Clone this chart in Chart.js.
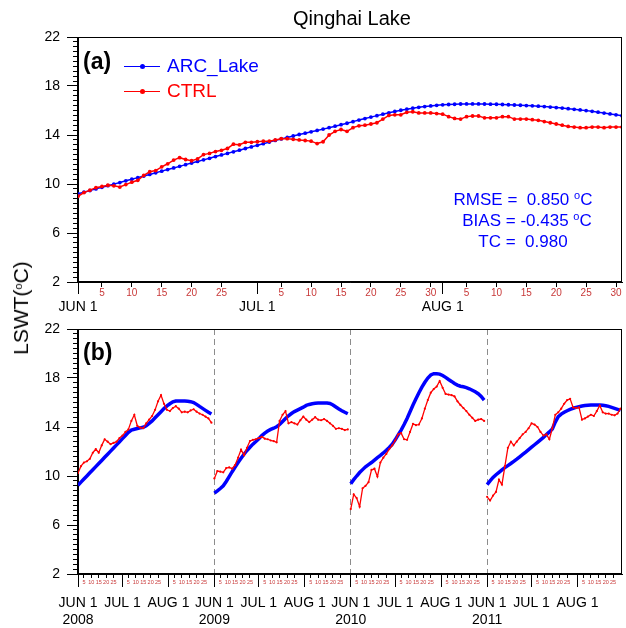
<!DOCTYPE html>
<html>
<head>
<meta charset="utf-8">
<script src="https://cdn.jsdelivr.net/npm/chart.js@4.4.1/dist/chart.umd.min.js"></script>
<style>
  body { margin: 0; background: #fff; width: 626px; height: 628px; position: relative; overflow: hidden;
         font-family: "Liberation Sans", Arial, sans-serif; }
  canvas { position: absolute; left: 0; }
  .txt { position: absolute; white-space: nowrap; line-height: 20px; }
  .ln { position: absolute; height: 1.5px; width: 36px; }
  .dot { position: absolute; width: 5px; height: 5px; border-radius: 50%; }
  sup { font-size: 11px; vertical-align: 6px; line-height: 0; }
</style>
</head>
<body>
<canvas id="panelA" width="626" height="322" style="top:0"></canvas>
<canvas id="panelB" width="626" height="328" style="top:300px"></canvas>

<div class="txt" style="left:78px;width:548px;top:8px;text-align:center;font-size:20px">Qinghai Lake</div>
<div class="txt" style="left:21px;top:308px;font-size:21px;transform:translate(-50%,-50%) rotate(-90deg)">LSWT(<sup>o</sup>C)</div>

<div class="txt" style="left:83px;top:49px;font-size:23px;font-weight:bold;line-height:24px">(a)</div>
<div class="txt" style="left:83px;top:340px;font-size:23px;font-weight:bold;line-height:24px">(b)</div>

<div class="ln" style="left:124px;top:65.5px;background:#0000ff"></div>
<div class="dot" style="left:139.5px;top:63.7px;background:#0000ff"></div>
<div class="txt" style="left:167px;top:56px;font-size:19px;color:#0000ff">ARC_Lake</div>
<div class="ln" style="left:124px;top:90.5px;background:#ff0000"></div>
<div class="dot" style="left:139.5px;top:88.7px;background:#ff0000"></div>
<div class="txt" style="left:167px;top:81px;font-size:19px;color:#ff0000">CTRL</div>

<div class="txt" style="left:423px;width:200px;top:190px;text-align:center;font-size:17px;color:#0000ff">RMSE =&nbsp; 0.850 <sup>o</sup>C</div>
<div class="txt" style="left:427px;width:200px;top:211px;text-align:center;font-size:17px;color:#0000ff">BIAS = -0.435 <sup>o</sup>C</div>
<div class="txt" style="left:423px;width:200px;top:232px;text-align:center;font-size:17px;color:#0000ff">TC =&nbsp; 0.980</div>

<script>
// (a) daily mean Jun 1 - Aug 31
const arcLakeA = [
  9.2, 9.33, 9.46, 9.6, 9.73, 9.86, 9.99, 10.12, 10.26, 10.39,
  10.52, 10.65, 10.78, 10.92, 11.05, 11.18, 11.31, 11.44, 11.58, 11.71,
  11.84, 11.97, 12.1, 12.24, 12.37, 12.5, 12.63, 12.76, 12.9, 13.03,
  13.16, 13.29, 13.42, 13.56, 13.68, 13.8, 13.92, 14.04, 14.15, 14.26,
  14.37, 14.48, 14.6, 14.72, 14.84, 14.96, 15.09, 15.22, 15.34, 15.46,
  15.58, 15.7, 15.81, 15.92, 16.02, 16.11, 16.19, 16.26, 16.32, 16.37,
  16.42, 16.46, 16.49, 16.51, 16.53, 16.54, 16.54, 16.54, 16.53, 16.52,
  16.51, 16.49, 16.47, 16.45, 16.43, 16.4, 16.38, 16.35, 16.32, 16.28,
  16.24, 16.2, 16.15, 16.1, 16.05, 15.99, 15.93, 15.86, 15.79, 15.72,
  15.65, 15.58
];
const ctrlA = [
  9.0, 9.3, 9.5, 9.7, 9.8, 9.9, 9.85, 9.75, 9.95, 10.15,
  10.3, 10.7, 11.0, 11.1, 11.4, 11.65, 11.95, 12.15, 12.0, 11.9,
  12.05, 12.4, 12.5, 12.65, 12.75, 12.9, 13.25, 13.2, 13.4, 13.4,
  13.45, 13.5, 13.5, 13.6, 13.7, 13.7, 13.65, 13.6, 13.55, 13.5,
  13.3, 13.45, 14.0, 14.3, 14.45, 14.3, 14.6, 14.75, 14.8, 14.9,
  15.0, 15.3, 15.6, 15.65, 15.65, 15.85, 15.9, 15.8, 15.8, 15.8,
  15.75, 15.7, 15.5, 15.35, 15.3, 15.5, 15.55, 15.55, 15.4, 15.4,
  15.4, 15.5, 15.5, 15.3, 15.3, 15.3, 15.25, 15.2, 15.1, 15.0,
  14.9, 14.8, 14.7, 14.65, 14.6, 14.6, 14.65, 14.65, 14.6, 14.65,
  14.65, 14.65
];

// (b) every 2nd day, Jun 1 - Aug 30 of each year
const years = ['2008', '2009', '2010', '2011'];
const arcLakeB = [
  [9.24, 9.5, 9.75, 10.0, 10.26, 10.51, 10.77, 11.02, 11.27, 11.53,
   11.78, 12.03, 12.29, 12.54, 12.8, 13.05, 13.3, 13.56, 13.75, 13.82,
   13.88, 13.93, 13.98, 14.1, 14.3, 14.5, 14.75, 15.0, 15.25, 15.5,
   15.72, 15.9, 16.05, 16.12, 16.13, 16.13, 16.12, 16.1, 16.07, 16.0,
   15.85, 15.68, 15.52, 15.36, 15.2, 15.06],
  [8.6, 8.78, 8.98, 9.2, 9.55, 9.95, 10.35, 10.73, 11.1, 11.45,
   11.78, 12.08, 12.35, 12.6, 12.82, 13.05, 13.3, 13.5, 13.67, 13.8,
   13.9, 14.02, 14.2, 14.45, 14.7, 14.92, 15.1, 15.26, 15.38, 15.5,
   15.62, 15.76, 15.84, 15.9, 15.93, 15.95, 15.96, 15.96, 15.95, 15.92,
   15.8, 15.63, 15.47, 15.33, 15.2, 15.08],
  [9.37, 9.7, 10.0, 10.28, 10.52, 10.75, 10.93, 11.1, 11.3, 11.5,
   11.68, 11.88, 12.1, 12.33, 12.6, 12.95, 13.35, 13.75, 14.2, 14.7,
   15.25, 15.8, 16.3, 16.8, 17.25, 17.65, 18.0, 18.25, 18.35, 18.35,
   18.32, 18.2, 18.05, 17.88, 17.72, 17.55, 17.42, 17.33, 17.28, 17.22,
   17.12, 17.0, 16.88, 16.72, 16.5, 16.2],
  [9.3, 9.6, 9.88, 10.1, 10.3, 10.5, 10.68, 10.85, 11.02, 11.2,
   11.38, 11.57, 11.76, 11.95, 12.15, 12.35, 12.55, 12.75, 12.95, 13.15,
   13.38, 13.6, 13.84, 14.4, 14.85, 15.05, 15.2, 15.33, 15.44, 15.53,
   15.6, 15.66, 15.71, 15.75, 15.78, 15.8, 15.8, 15.8, 15.79, 15.77,
   15.74, 15.68, 15.6, 15.52, 15.44, 15.36]
];
const ctrlB = [
  [10.24, 10.8, 11.1, 11.2, 11.4, 11.9, 12.2, 11.9, 12.5, 13.0,
   12.8, 12.6, 12.7, 12.8, 13.1, 13.3, 13.6, 13.8, 14.5, 15.0,
   14.1, 13.95, 13.9, 14.3, 14.6, 14.9, 15.4, 16.1, 16.6, 15.9,
   15.4, 15.3, 15.55, 15.7, 15.5, 15.2, 15.25, 15.2, 15.35, 15.45,
   15.25, 15.1, 15.0, 14.85, 14.7, 14.35],
  [9.8, 10.4, 10.35, 10.3, 10.65, 10.7, 10.6, 10.9, 11.5, 12.15,
   11.7, 12.3, 12.85, 12.95, 13.0, 13.1, 13.2, 13.05, 13.0, 12.9,
   12.85, 12.75, 14.5, 15.0, 15.3, 14.3, 14.4, 14.3, 14.2, 14.55,
   14.85, 14.6, 14.4, 14.6, 14.8, 14.6, 14.55, 14.65, 14.5, 14.3,
   14.1, 13.85, 13.9, 13.85, 13.75, 13.8],
  [7.3, 8.5, 8.2, 7.5, 9.0, 9.2, 9.5, 10.5, 10.6, 9.95,
   11.1, 11.5, 11.8, 12.2, 12.5, 12.9, 13.4, 13.5, 13.0, 12.95,
   13.6, 14.25, 14.15, 14.2, 14.7, 15.5, 16.2, 16.8, 17.1, 17.3,
   17.75, 17.2, 16.7, 16.65, 16.6, 16.5, 16.1, 15.8, 15.55, 15.3,
   15.0, 14.75, 14.5, 14.6, 14.65, 14.5],
  [8.3, 8.0, 8.4, 8.7, 9.7, 9.3, 10.8, 12.3, 12.8, 12.5,
   12.8, 13.1, 13.4, 13.6, 13.9, 14.3, 14.2, 14.0, 13.6, 13.3,
   13.4, 13.0, 13.9, 15.0, 15.2, 15.5, 15.9, 16.2, 16.3, 15.6,
   15.55, 15.6, 14.6, 14.7, 14.85, 15.0, 14.9, 15.3, 15.75, 15.2,
   15.1, 15.1, 15.0, 14.95, 15.1, 15.5]
];

// tick labels
const yTicks = [2, 6, 10, 14, 18, 22];
const monthStart = [0, 30, 61];            // day index of Jun 1, Jul 1, Aug 1
const monthNames = ['JUN 1', 'JUL 1', 'AUG 1'];
const minorDaysA = [[5, 10, 15, 20, 25], [5, 10, 15, 20, 25, 30], [5, 10, 15, 20, 25, 30]];
const minorDaysB = [5, 10, 15, 20, 25];
const seasonLen = 92;
const stepB = 2;

const family = '"Liberation Sans", Arial, sans-serif';
Chart.defaults.font.family = family;

function squeeze(w, h) {
  return function (s) {
    if (w !== null) s.width = w;
    if (h !== null) s.height = h;
    s.paddingLeft = 0; s.paddingRight = 0; s.paddingTop = 0; s.paddingBottom = 0;
  };
}

function tickAxis(axis, pos, min, max, list, o) {
  const labels = new Map(list.map(t => [t.value, t.label]));
  return {
    type: 'linear', axis: axis, position: pos, min: min, max: max, weight: o.weight,
    afterBuildTicks: s => { s.ticks = list.map(t => ({ value: t.value })); },
    afterFit: squeeze(o.w, o.h),
    grid: { drawOnChartArea: !!o.gridColor, color: o.gridColor || '#000', tickColor: '#000',
            tickLength: o.tl, lineWidth: 1, tickWidth: 1 },
    border: { color: '#000', width: 1, dash: o.dash || [] },
    ticks: { autoSkip: false, maxRotation: 0, minRotation: 0, padding: o.pad, color: o.color || '#000',
             font: { family: family, size: o.size || 14 },
             callback: v => labels.has(v) ? labels.get(v) : '' }
  };
}

function yAxes(weightW) {
  const minor = [];
  for (let k = 0; k <= 50; k++) minor.push({ value: 2 + k * 0.4, label: '' });
  return {
    y: tickAxis('y', 'left', 2, 22, yTicks.map(v => ({ value: v, label: String(v) })),
                { weight: 1, w: weightW, h: null, tl: 11, pad: 7 }),
    yMinor: tickAxis('y', 'left', 2, 22, minor, { weight: 0, w: 0, h: null, tl: 5, pad: 0 })
  };
}

// box round the plot, and let the zero-height minor axis draw its labels below the plot
const frame = {
  id: 'frame',
  afterLayout(chart) {
    const m = chart.scales.xMinor;
    if (m) m.bottom = chart.height;
  },
  afterDraw(chart) {
    const a = chart.chartArea, c = chart.ctx;
    c.save();
    c.strokeStyle = '#000';
    c.lineWidth = 1;
    c.strokeRect(Math.round(a.left) - 0.5, Math.round(a.top) + 0.5,
                 Math.round(a.right - a.left), Math.round(a.bottom - a.top) - 1);
    c.restore();
  }
};

// ---- panel (a)
const majorA = monthStart.map((d, i) => ({ value: d, label: monthNames[i] }));
const minorA = [];
monthStart.forEach((d, m) => minorDaysA[m].forEach(n => minorA.push({ value: d + n - 1, label: String(n) })));

new Chart(document.getElementById('panelA'), {
  type: 'line',
  data: {
    datasets: [{
      label: 'CTRL',
      data: ctrlA.map((v, i) => ({ x: i, y: v })),
      borderColor: '#ff0000', backgroundColor: '#ff0000',
      borderWidth: 1.5, pointRadius: 1.9, pointBorderWidth: 0
    }, {
      label: 'ARC_Lake',
      data: arcLakeA.map((v, i) => ({ x: i, y: v })),
      borderColor: '#0000ff', backgroundColor: '#0000ff',
      borderWidth: 1.5, pointRadius: 1.9, pointBorderWidth: 0
    }]
  },
  options: {
    responsive: false, animation: false, devicePixelRatio: 1, events: [],
    layout: { padding: { top: 37, right: 1, bottom: 0, left: 0 } },
    plugins: { legend: { display: false }, title: { display: false }, tooltip: { enabled: false } },
    scales: Object.assign({
      x: tickAxis('x', 'bottom', 0, 91, majorA, { weight: 1, w: null, h: 40, tl: 12, pad: 5, size: 14 }),
      xMinor: tickAxis('x', 'bottom', 0, 91, minorA, { weight: 0, w: null, h: 0, tl: 5, pad: 0, size: 10, color: '#c83838' })
    }, yAxes(78))
  },
  plugins: [frame]
});

// ---- panel (b)
const majorB = [], minorB = [], yearStarts = [];
years.forEach((yr, k) => {
  const base = k * seasonLen;
  yearStarts.push(base);
  monthStart.forEach((d, m) => {
    majorB.push({ value: base + d, label: m === 0 ? [monthNames[m], yr] : monthNames[m] });
    minorDaysB.forEach(n => minorB.push({ value: base + d + n - 1, label: String(n) }));
  });
});

function seasonPoints(series) {
  const pts = [];
  series.forEach((vals, k) => {
    vals.forEach((v, i) => pts.push({ x: k * seasonLen + i * stepB, y: v }));
    pts.push({ x: k * seasonLen + seasonLen - 1, y: null });
  });
  return pts;
}

const axisB = tickAxis('x', 'bottom', 0, years.length * seasonLen - 1, majorB,
  { weight: 1, w: null, h: 54, tl: 13, pad: 8, size: 14, dash: [6, 4],
    gridColor: ctx => (ctx.tick && ctx.tick.value > 0 && yearStarts.includes(ctx.tick.value)) ? '#8c8c8c' : 'rgba(0,0,0,0)' });

new Chart(document.getElementById('panelB'), {
  type: 'line',
  data: {
    datasets: [{
      label: 'CTRL',
      data: seasonPoints(ctrlB),
      borderColor: '#ff0000', backgroundColor: '#ff0000',
      borderWidth: 1.3, pointRadius: 1.1, pointBorderWidth: 0, spanGaps: false
    }, {
      label: 'ARC_Lake',
      data: seasonPoints(arcLakeB),
      borderColor: '#0000ff', backgroundColor: '#0000ff',
      borderWidth: 3.5, pointRadius: 0, spanGaps: false
    }]
  },
  options: {
    responsive: false, animation: false, devicePixelRatio: 1, events: [],
    layout: { padding: { top: 29, right: 1, bottom: 0, left: 0 } },
    plugins: { legend: { display: false }, title: { display: false }, tooltip: { enabled: false } },
    scales: Object.assign({
      x: axisB,
      xMinor: tickAxis('x', 'bottom', 0, years.length * seasonLen - 1, minorB,
        { weight: 0, w: null, h: 0, tl: 4, pad: 1, size: 5.5, color: '#c83838' })
    }, yAxes(78))
  },
  plugins: [frame]
});
</script>
</body>
</html>
